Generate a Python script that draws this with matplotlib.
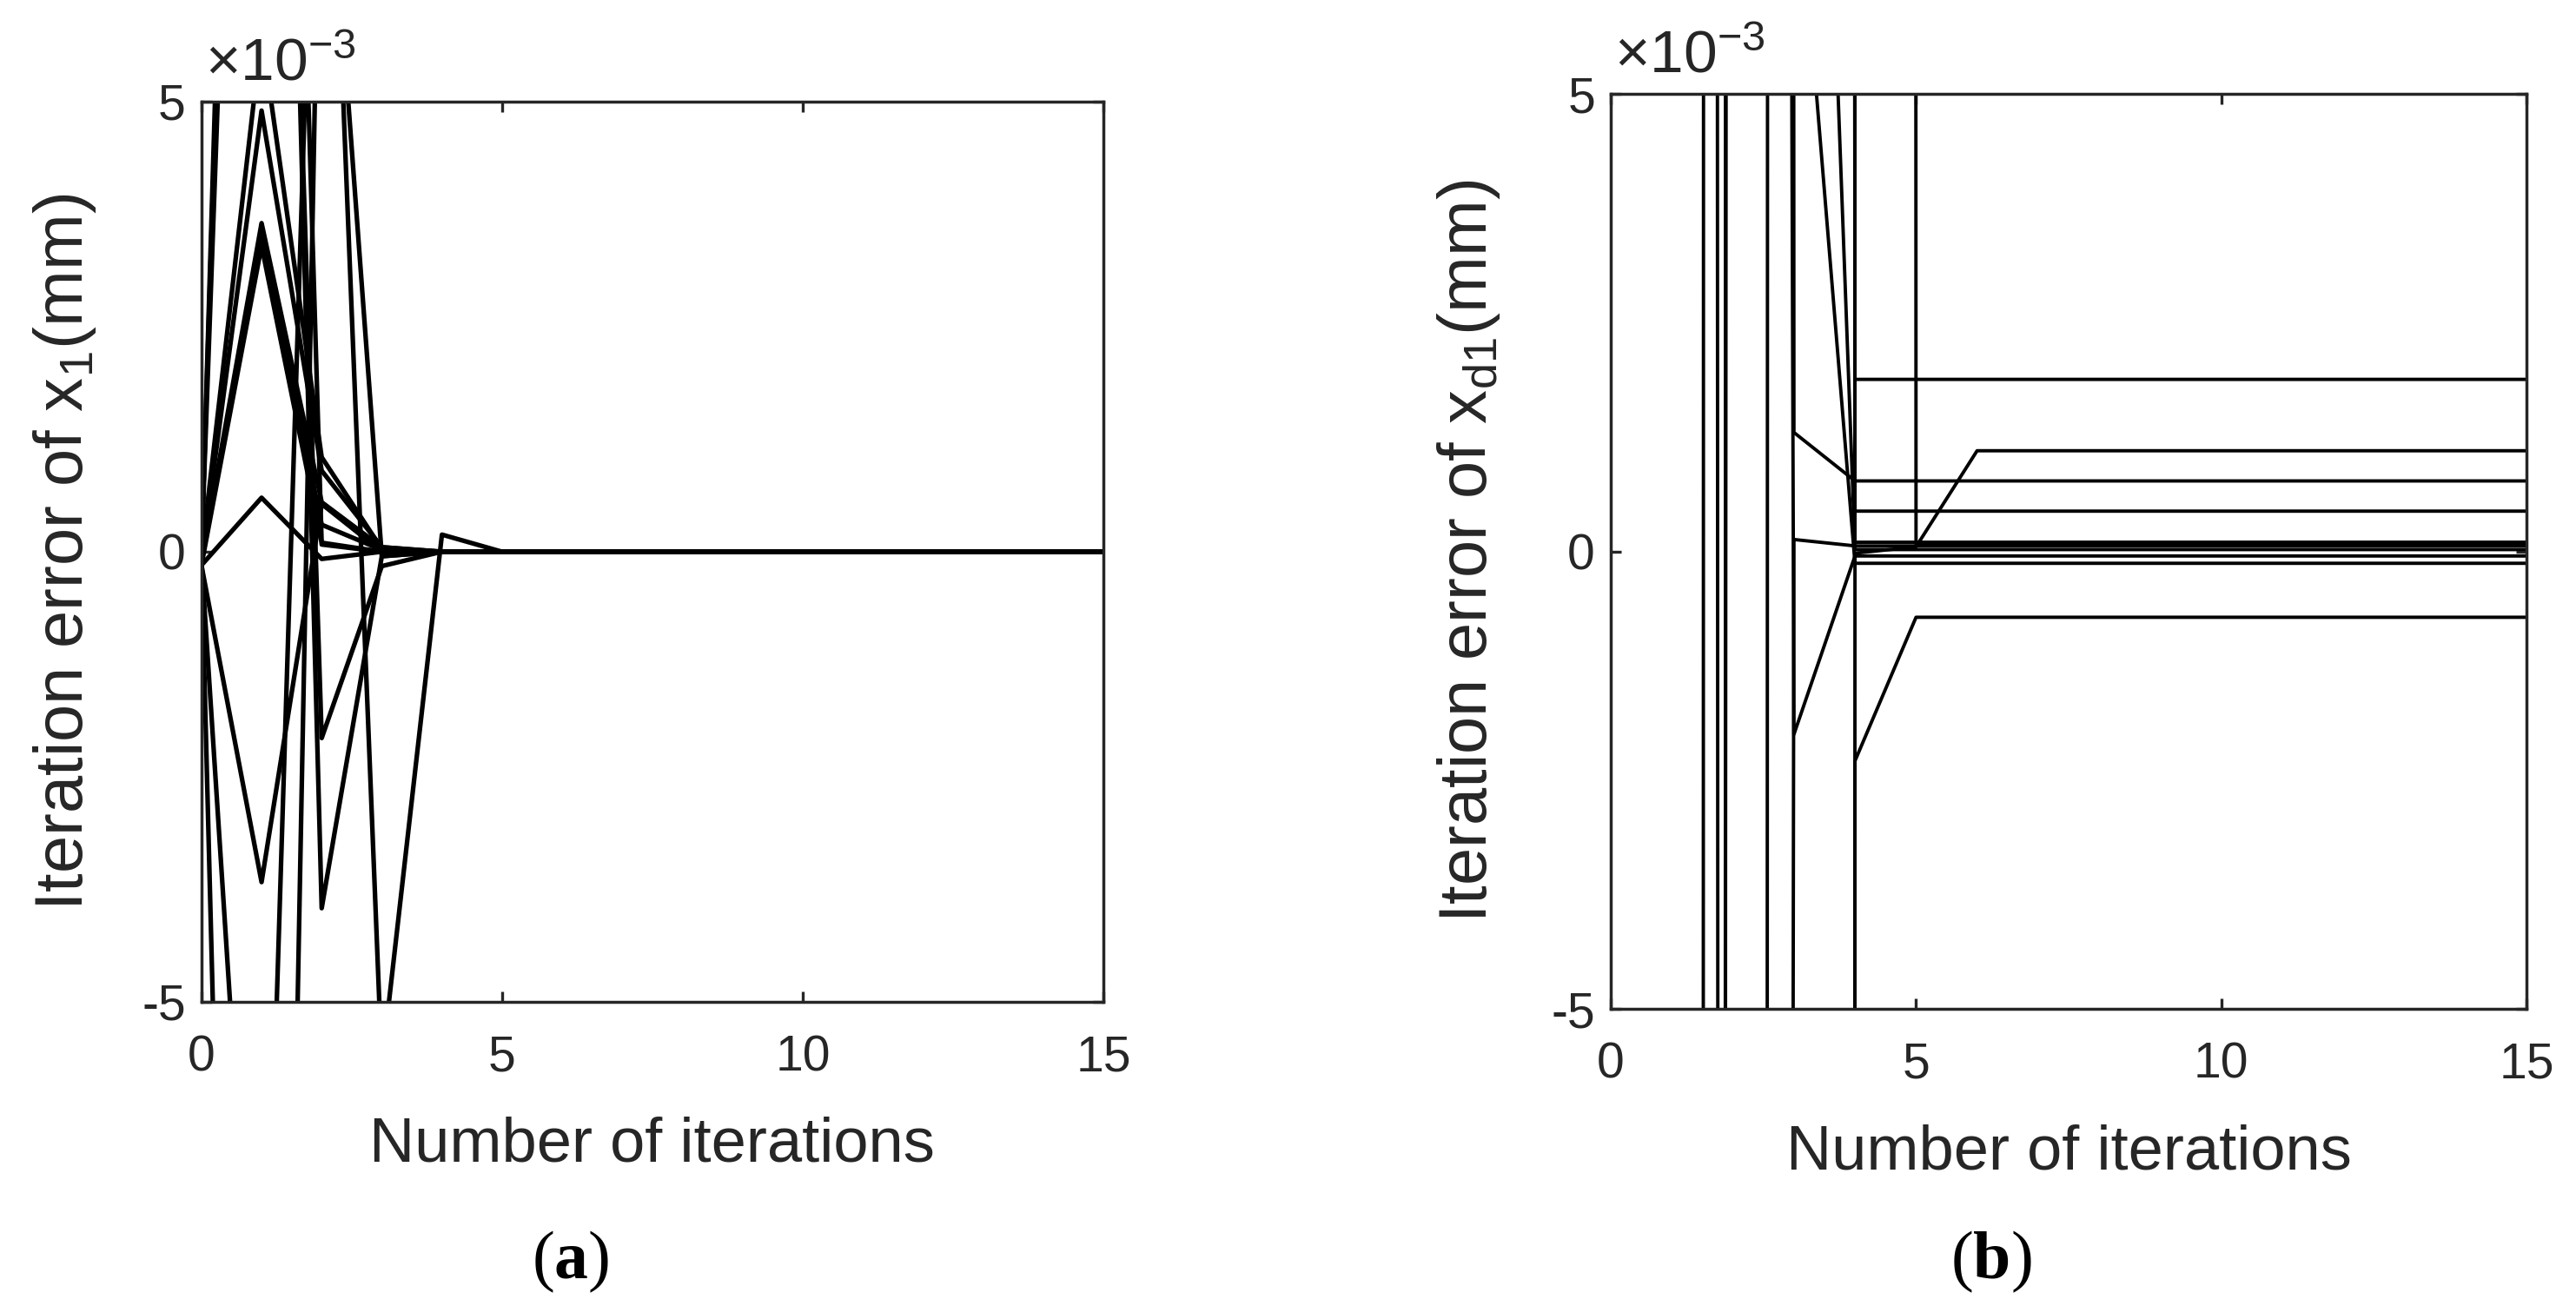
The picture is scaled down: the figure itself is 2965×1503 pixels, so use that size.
"""
Iteration error convergence of x1 and xd1 (two panels)
"""

import matplotlib
matplotlib.use('Agg')
import matplotlib.pyplot as plt

plt.rcParams['font.family'] = ['Liberation Sans', 'DejaVu Sans']
plt.rcParams['mathtext.fontset'] = 'custom'
plt.rcParams['mathtext.rm'] = 'Liberation Sans'
plt.rcParams['mathtext.it'] = 'Liberation Sans'
plt.rcParams['mathtext.bf'] = 'Liberation Serif:bold'
plt.rcParams['mathtext.default'] = 'rm'
plt.rcParams['axes.unicode_minus'] = False

# Iteration index (x axis)
iterations = [0, 1, 2, 3, 4, 5, 6, 7, 8, 9, 10, 11, 12, 13, 14, 15]

# Panel (a): iteration error of x1, in units of 1e-3 mm
err_x1 = [
    [-0.10, 4.90, 0.90, 0.05, 0, 0, 0, 0, 0, 0, 0, 0, 0, 0, 0, 0],
    [-0.10, 3.65, 0.55, 0.05, 0, 0, 0, 0, 0, 0, 0, 0, 0, 0, 0, 0],
    [-0.12, 3.55, 0.30, 0.02, 0, 0, 0, 0, 0, 0, 0, 0, 0, 0, 0, 0],
    [-0.15, 3.40, 0.10, 0.00, 0, 0, 0, 0, 0, 0, 0, 0, 0, 0, 0, 0],
    [-0.15, 0.60, -0.08, 0.00, 0, 0, 0, 0, 0, 0, 0, 0, 0, 0, 0, 0],
    [-0.15, -3.67, 0.53, 0.00, 0, 0, 0, 0, 0, 0, 0, 0, 0, 0, 0, 0],
    [-0.05, 5.75, 1.05, 0.03, 0, 0, 0, 0, 0, 0, 0, 0, 0, 0, 0, 0],
    [0.00, 21.0, -3.96, -0.05, 0, 0, 0, 0, 0, 0, 0, 0, 0, 0, 0, 0],
    [0.00, 18.5, -2.07, -0.16, 0, 0, 0, 0, 0, 0, 0, 0, 0, 0, 0, 0],
    [-0.05, 22.4, 0.08, 0.00, 0, 0, 0, 0, 0, 0, 0, 0, 0, 0, 0, 0],
    [-0.10, -26.0, 9.0, -0.05, 0, 0, 0, 0, 0, 0, 0, 0, 0, 0, 0, 0],
    [-0.10, -10.4, 11.0, -5.7, 0.19, 0, 0, 0, 0, 0, 0, 0, 0, 0, 0, 0],
]

# Panel (b): iteration error of xd1, in units of 1e-3 mm
err_xd1 = [
    [-2000, -1500, 1400, 1.30, 0.77, 0.77, 0.77, 0.77, 0.77, 0.77, 0.77, 0.77, 0.77, 0.77, 0.77, 0.77],
    [2000, 1200, -400, 0.13, 0.06, 0.06, 0.06, 0.06, 0.06, 0.06, 0.06, 0.06, 0.06, 0.06, 0.06, 0.06],
    [-2000, -1500, 200, -2.00, -0.05, -0.05, -0.05, -0.05, -0.05, -0.05, -0.05, -0.05, -0.05, -0.05, -0.05, -0.05],
    [-2000, -1600, 220, 8.00, -0.13, -0.13, -0.13, -0.13, -0.13, -0.13, -0.13, -0.13, -0.13, -0.13, -0.13, -0.13],
    [-2000, -1700, 230, 18.0, 0.02, 0.02, 0.02, 0.02, 0.02, 0.02, 0.02, 0.02, 0.02, 0.02, 0.02, 0.02],
    [-2000, -1800, -1300, 1000, 1.88, 1.88, 1.88, 1.88, 1.88, 1.88, 1.88, 1.88, 1.88, 1.88, 1.88, 1.88],
    [1000, 1500, 1800, 1500, 0.44, 0.44, 0.44, 0.44, 0.44, 0.44, 0.44, 0.44, 0.44, 0.44, 0.44, 0.44],
    [2000, 2000, 2000, 2000, 0.10, 0.10, 0.10, 0.10, 0.10, 0.10, 0.10, 0.10, 0.10, 0.10, 0.10, 0.10],
    [-2000, -2000, -2000, -2000, -2.29, -0.72, -0.72, -0.72, -0.72, -0.72, -0.72, -0.72, -0.72, -0.72, -0.72, -0.72],
    [-2000, -2000, -2000, -2000, -0.02, 0.05, 1.10, 1.10, 1.10, 1.10, 1.10, 1.10, 1.10, 1.10, 1.10, 1.10],
    [2000, 2000, 2000, 2000, 2000, 0.08, 0.08, 0.08, 0.08, 0.08, 0.08, 0.08, 0.08, 0.08, 0.08, 0.08],
]

x_ticks = [0, 5, 10, 15]
y_ticks = [-5, 0, 5]
y_tick_labels = ['-5', '0', '5']

AXIS_COLOR = '#262626'


def style_axes(ax, ylabel, xlabel_y, ylabel_x):
    """Apply MATLAB-like box styling to an axes"""
    ax.set_xlim(0, 15)
    ax.set_ylim(-5e-3, 5e-3)
    ax.set_xticks(x_ticks)
    ax.set_xticklabels([str(t) for t in x_ticks])
    ax.set_yticks([t * 1e-3 for t in y_ticks])
    ax.set_yticklabels(y_tick_labels)
    for sp in ax.spines.values():
        sp.set_linewidth(2.5)
        sp.set_color(AXIS_COLOR)
    ax.tick_params(axis='both', which='both', direction='in', length=8.5, width=2.4,
                   colors=AXIS_COLOR, labelsize=41, top=True, right=True)
    ax.tick_params(axis='x', pad=27)
    ax.tick_params(axis='y', pad=13)

    ax.set_xlabel('Number of iterations', fontsize=52, color=AXIS_COLOR)
    ax.xaxis.set_label_coords(0.5, xlabel_y)
    ax.xaxis.label.set_va('center')
    ax.set_ylabel(ylabel, fontsize=56, color=AXIS_COLOR)
    ax.yaxis.set_label_coords(ylabel_x, 0.5)
    ax.yaxis.label.set_va('center')

    # exponent multiplier above the y axis
    ax.text(0.004, 1.010, r'$\times10^{-3}$', transform=ax.transAxes,
            fontsize=50, color=AXIS_COLOR, ha='left', va='bottom')


fig = plt.figure(figsize=(29.65, 15.03), dpi=100)
fig.patch.set_facecolor('white')

ax1 = fig.add_axes([0.0782, 0.2329, 0.3501, 0.6893])
ax2 = fig.add_axes([0.6253, 0.2275, 0.3555, 0.7006])

for series in err_x1:
    ax1.plot(iterations, [v * 1e-3 for v in series], color='black', linewidth=3.8)

for series in err_xd1:
    ax2.plot(iterations, [v * 1e-3 for v in series], color='black', linewidth=2.8)

style_axes(ax1, r'Iteration error of x$_{1}$(mm)', -0.159, -0.152)
style_axes(ax2, r'Iteration error of x$_{d1}$(mm)', -0.158, -0.155)

# sub-figure captions
fig.text(0.2213, 0.034, r'($\mathbf{a}$)', family='Liberation Serif', fontsize=56,
         ha='center', va='center')
fig.text(0.7730, 0.034, r'($\mathbf{b}$)', family='Liberation Serif', fontsize=56,
         ha='center', va='center')

plt.savefig('out.png', dpi=100, facecolor='white')
